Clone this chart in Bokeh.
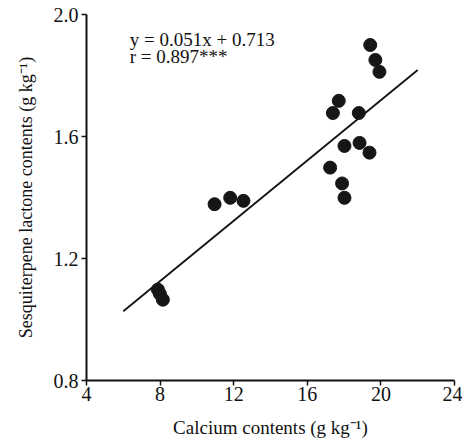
from bokeh.plotting import figure
from bokeh.models import Range1d, FixedTicker, Label
from bokeh.embed import file_html
from bokeh.resources import INLINE

# Data
calcium = [19.42, 19.70, 19.92, 17.71, 17.39, 18.80, 18.02, 18.84, 19.38,
           17.24, 17.89, 18.02, 10.96, 11.81, 12.53, 7.88, 7.99, 8.15]
lactone = [1.900, 1.851, 1.812, 1.717, 1.677, 1.677, 1.569, 1.579, 1.547,
           1.498, 1.446, 1.399, 1.378, 1.399, 1.389, 1.098, 1.084, 1.065]
fit_x = [6.0, 22.0]
fit_y = [1.027, 1.818]
x_ticks = [4, 8, 12, 16, 20, 24]
y_ticks = [0.8, 1.2, 1.6, 2.0]
eq_lines = ["y = 0.051x + 0.713", "r = 0.897***"]

FONT = "Liberation Serif"

p = figure(width=462, height=440, output_backend="svg", toolbar_location=None,
           x_range=Range1d(4, 24), y_range=Range1d(0.8, 2.0),
           min_border_left=86, min_border_right=8, min_border_top=14,
           min_border_bottom=58)
p.outline_line_color = None
p.grid.visible = False
p.background_fill_color = "white"

p.line(fit_x, fit_y, line_color="#111111", line_width=1.8)
p.scatter(calcium, lactone, size=13, fill_color="#161616", line_color="#161616")

for ax in (p.xaxis[0], p.yaxis[0]):
    ax.axis_line_width = 2
    ax.axis_line_color = "#111111"
    ax.major_tick_line_color = "#111111"
    ax.major_tick_line_width = 1.5
    ax.major_tick_out = 5
    ax.major_tick_in = 0
    ax.minor_tick_line_color = None
    ax.major_label_text_font = FONT
    ax.major_label_text_font_size = "20px"
    ax.major_label_text_color = "#111111"
    ax.axis_label_text_font = FONT
    ax.axis_label_text_font_size = "19px"
    ax.axis_label_text_font_style = "normal"
    ax.axis_label_text_color = "#111111"

p.yaxis.axis_label_text_font_size = "18px"
p.xaxis.ticker = FixedTicker(ticks=x_ticks)
p.yaxis.ticker = FixedTicker(ticks=y_ticks)
p.yaxis.major_label_overrides = {v: f"{v:.1f}" for v in y_ticks}
p.xaxis.major_label_standoff = 1
p.yaxis.major_label_standoff = 3
p.xaxis.axis_label = "Calcium contents (g kg\u207b\u00b9)"
p.yaxis.axis_label = "Sesquiterpene lactone contents (g kg\u207b\u00b9)"
p.xaxis.axis_label_standoff = 13
p.yaxis.axis_label_standoff = 15

for i, t in enumerate(eq_lines):
    p.add_layout(Label(x=6.35, y=1.918 - i * 0.056, text=t, text_font=FONT,
                       text_font_size="19px", text_color="#111111",
                       text_baseline="middle", text_align="left"))

open("out.html", "w").write(file_html(p, INLINE))
